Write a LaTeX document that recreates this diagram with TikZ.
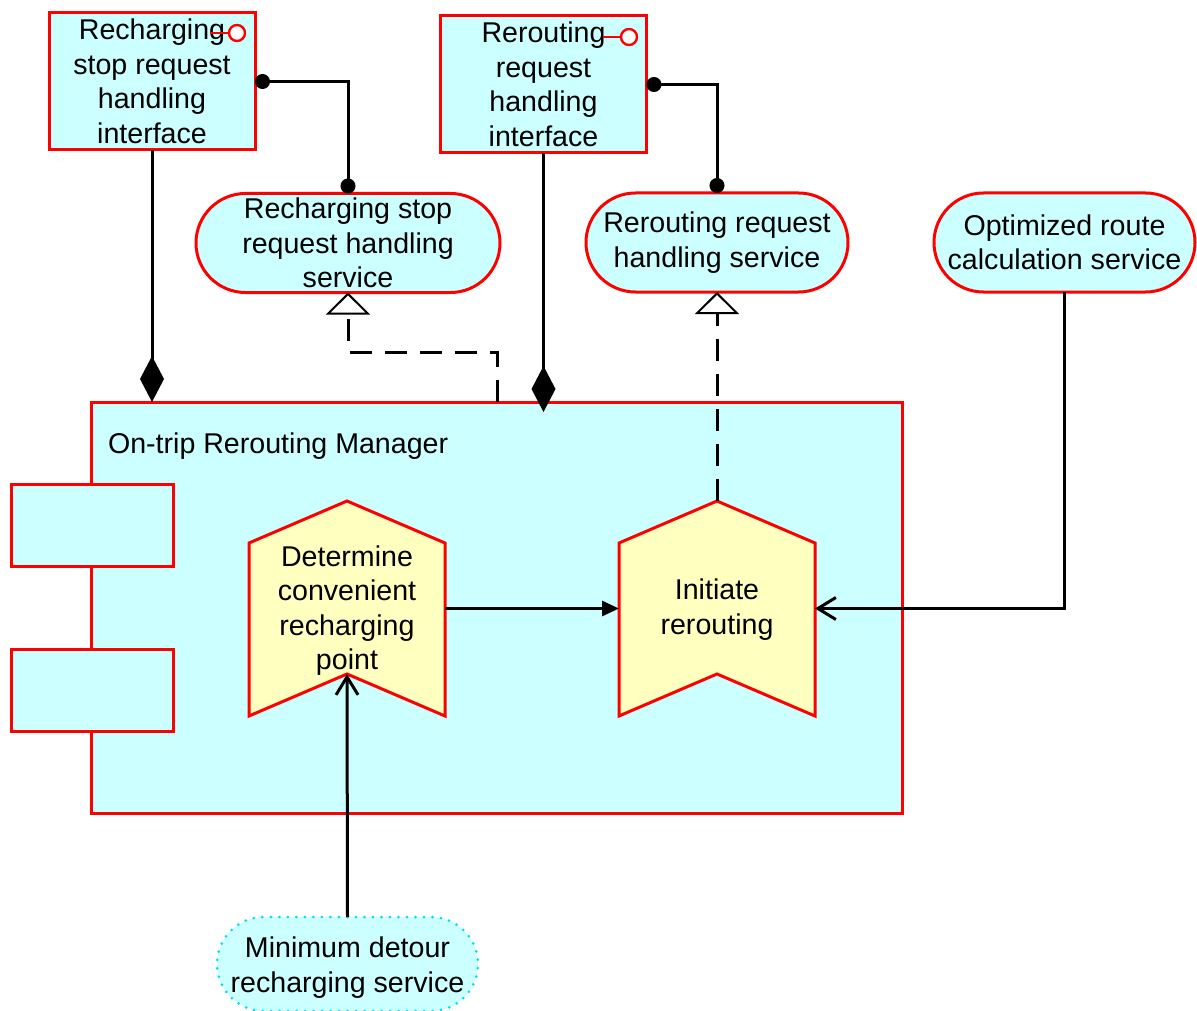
\documentclass[tikz,border=0pt]{standalone}
\usepackage{fontspec}
\setmainfont{Liberation Sans}
\usetikzlibrary{arrows.meta,shapes.misc,calc}
\definecolor{elemfill}{HTML}{CCFFFF}
\definecolor{procfill}{HTML}{FFFFC0}
\definecolor{elemred}{HTML}{FF0000}
\definecolor{dotcyan}{HTML}{00E0F0}

\begin{document}
\begin{tikzpicture}[x=1pt,y=-1pt,
  every node/.style={font=\fontsize{28.6}{34.5}\selectfont, align=center, inner sep=0pt, outer sep=0pt},
  elem/.style={draw=elemred, line width=3pt, fill=elemfill},
  iface/.style={elem, rectangle, minimum width=206pt, minimum height=137pt},
  svc/.style={elem, rounded rectangle, minimum height=99pt},
  tab/.style={elem, rectangle, minimum width=162pt, minimum height=82pt},
  procbox/.style={rectangle, minimum width=196pt, minimum height=215pt},
  procline/.style={draw=elemred, line width=3pt, fill=procfill, line join=miter},
  link/.style={line width=3pt, black},
  dashlink/.style={link, dash pattern=on 22pt off 13pt},
  compose/.style={link, -{Diamond[length=46pt,width=24pt]}},
  assign/.style={link, {Circle[length=15pt]}-{Circle[length=15pt]}},
  realize/.style={dashlink, -{Triangle[length=22pt,width=44pt,line width=2pt,fill=white]}},
  trigger/.style={link, -{Triangle[length=17pt,width=15pt]}},
  serve/.style={link, -{Straight Barb[length=18pt,width=22pt,line width=3pt]}},
  lollipop/.style={draw=elemred, line width=2.4pt}
]
\useasboundingbox (0,0) rectangle (1197,1011);

% application component with its two tabs
\node[elem, rectangle, minimum width=811pt, minimum height=411pt] (mgr) at (496.5,607.5) {};
\node[anchor=west] (mgrlabel) at (108,446) {On-trip Rerouting Manager};
\node[tab] (tab1) at (92,525) {};
\node[tab] (tab2) at (92,690) {};

% interfaces
\node[iface] (if1) at (152,81.5) {Recharging\\stop request\\handling\\interface};
\node[iface] (if2) at (543.5,84.5) {Rerouting\\request\\handling\\interface};
\draw[lollipop] (210,33) -- (229,33);
\draw[lollipop, fill=white] (237,33) circle (8);
\draw[lollipop] (603,37) -- (621,37);
\draw[lollipop, fill=white] (629,37) circle (8);

% services
\node[svc, minimum width=304pt] (svc1) at (348,243) {Recharging stop\\request handling\\service};
\node[svc, minimum width=262pt] (svc2) at (717,242.5) {Rerouting request\\handling service};
\node[svc, minimum width=261pt] (svc3) at (1064.5,242.5) {Optimized route\\calculation service};
\node[svc, draw=dotcyan, line width=3pt, dash pattern=on 0pt off 8.5pt, line cap=round,
      minimum width=261pt, minimum height=94pt] (mdr) at (347.5,964) {};
\node (mdrtext) at (347.5,967.5) {Minimum detour\\recharging service};

% functions
\draw[procline] (249,543) -- (347,501) -- (445,543) -- (445,716) -- (347,674) -- (249,716) -- cycle;
\draw[procline] (619,543) -- (717,501) -- (815,543) -- (815,716) -- (717,674) -- (619,716) -- cycle;
\node[procbox] (det) at (347,608.5) {};
\node[procbox] (init) at (717,608.5) {};
\node (dettext) at (347,610.5) {Determine\\convenient\\recharging\\point};
\node (inittext) at (717,609.5) {Initiate\\rerouting};
\coordinate (detnotch) at ($(det.south)+(0,-42)$);

% relations
\draw[compose] (if1.south) -- (if1.south |- mgr.north);
\draw[compose] (if2.south) -- ($(if2.south |- mgr.north)+(0,10)$);
\draw[assign] (if1.east) -| (svc1.north);
\draw[assign] (if2.east) -| (svc2.north);
\draw[realize] ($(mgr.north west)+(406,0)$) -- ++(0,-50) -| (svc1.south);
\draw[realize] (init.north) -- (svc2.south);
\draw[trigger] (det.east) -- (init.west);
\draw[serve] (svc3.south) |- (init.east);
\draw[serve] (mdr.north) -- (detnotch);
\end{tikzpicture}
\end{document}
